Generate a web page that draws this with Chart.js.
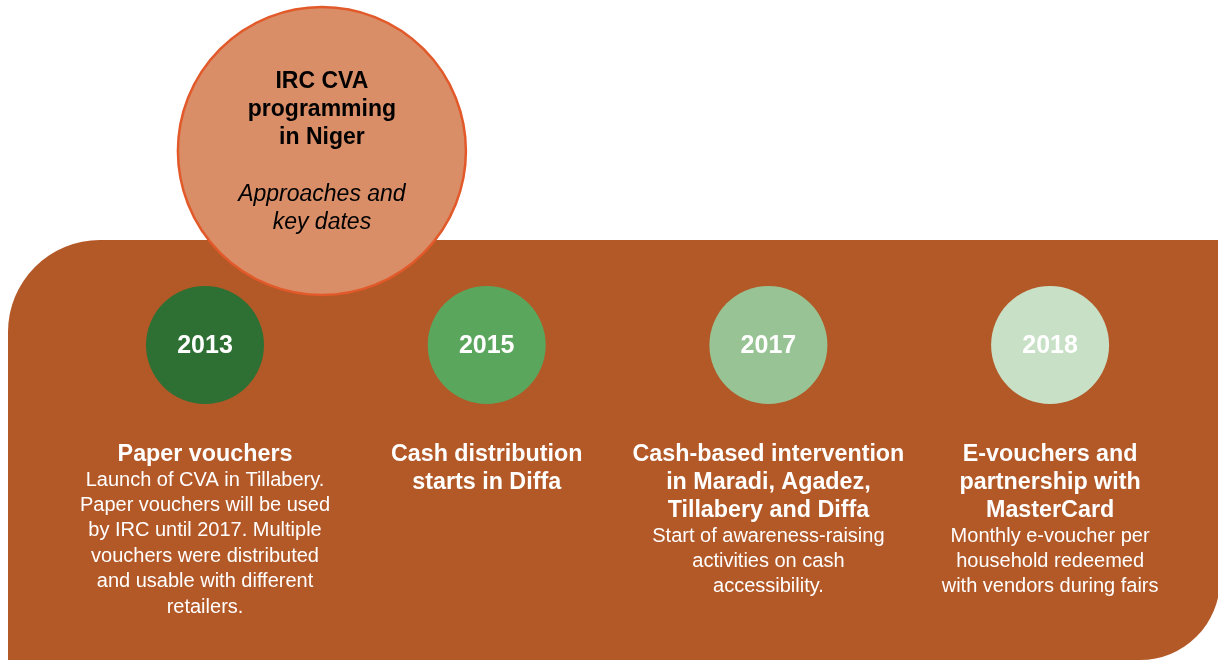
<!DOCTYPE html>
<html>
<head>
<meta charset="utf-8">
<script src="https://cdn.jsdelivr.net/npm/chart.js@4.4.0/dist/chart.umd.min.js"></script>
<style>
  html, body { margin: 0; padding: 0; background: #fff; }
  #wrap { width: 1218px; height: 660px; position: relative; }
</style>
</head>
<body>
<div id="wrap"><canvas id="timeline"></canvas></div>
<script>
// ---- data ----
const years = ['2013', '2015', '2017', '2018'];
const titles = [
  ['Paper vouchers'],
  ['Cash distribution', 'starts in Diffa'],
  ['Cash-based intervention', 'in Maradi, Agadez,', 'Tillabery and Diffa'],
  ['E-vouchers and', 'partnership with', 'MasterCard']
];
const descriptions = [
  ['Launch of CVA in Tillabery.', 'Paper vouchers will be used', 'by IRC until 2017. Multiple', 'vouchers were distributed', 'and usable with different', 'retailers.'],
  [],
  ['Start of awareness-raising', 'activities on cash', 'accessibility.'],
  ['Monthly e-voucher per', 'household redeemed', 'with vendors during fairs']
];
const headerTitle = ['IRC CVA', 'programming', 'in Niger'];
const headerSub = ['Approaches and', 'key dates'];

// ---- styles ----
const BROWN = '#b35827';
const yearColors = ['#2e7033', '#5ba65d', '#98c394', '#c8e0c6'];
const FONT = '"Liberation Sans", Arial, sans-serif';

// timeline row (y in scale units = px, reversed axis)
const ROW_Y = 345;
const HEADER_X = 0.415;   // header circle sits between 2013 and 2015
const HEADER_Y = 151;

// background band + header text + milestone text
const decor = {
  id: 'decor',
  beforeDatasetsDraw(chart) {
    const ctx = chart.ctx;
    const y = chart.scales.y;
    const top = y.getPixelForValue(240), bottom = y.getPixelForValue(660);
    const left = 8, right = 1220, rTL = 92, rBR = 80;
    ctx.save();
    ctx.fillStyle = BROWN;
    ctx.beginPath();
    ctx.moveTo(left + rTL, top);
    ctx.lineTo(right, top);
    ctx.lineTo(right, bottom - rBR);
    ctx.arc(right - rBR, bottom - rBR, rBR, 0, Math.PI / 2);
    ctx.lineTo(left, bottom);
    ctx.lineTo(left, top + rTL);
    ctx.arc(left + rTL, top + rTL, rTL, Math.PI, Math.PI * 1.5);
    ctx.closePath();
    ctx.fill();
    ctx.restore();
  },
  afterDatasetsDraw(chart) {
    const ctx = chart.ctx;
    const xs = chart.scales.x, ys = chart.scales.y;
    ctx.save();
    ctx.textAlign = 'center';
    ctx.textBaseline = 'middle';

    // header circle text
    const hx = xs.getPixelForValue(HEADER_X);
    ctx.fillStyle = '#000';
    ctx.font = 'bold 23px ' + FONT;
    headerTitle.forEach((t, i) => ctx.fillText(t, hx, ys.getPixelForValue(82 + i * 28)));
    ctx.font = 'italic 23px ' + FONT;
    headerSub.forEach((t, i) => ctx.fillText(t, hx, ys.getPixelForValue(195 + i * 28)));

    // milestones
    years.forEach((yr, i) => {
      const cx = xs.getPixelForValue(i);
      ctx.fillStyle = '#fff';
      ctx.font = 'bold 25px ' + FONT;
      ctx.fillText(yr, cx, ys.getPixelForValue(ROW_Y + 1));

      let ly = 455;
      ctx.font = 'bold 23.3px ' + FONT;
      titles[i].forEach((t, k) => {
        ly = 455 + k * 28;
        ctx.fillText(t, cx, ys.getPixelForValue(ly));
      });
      ctx.font = '20px ' + FONT;
      descriptions[i].forEach((t, k) => {
        ctx.fillText(t, cx, ys.getPixelForValue(ly + 25 + k * 25.4));
      });
    });
    ctx.restore();
  }
};

new Chart(document.getElementById('timeline'), {
  type: 'bubble',
  data: {
    datasets: [
      {
        label: 'Years',
        data: years.map((_, i) => ({ x: i, y: ROW_Y, r: 59 })),
        backgroundColor: yearColors,
        borderWidth: 0
      },
      {
        label: 'Header',
        data: [{ x: HEADER_X, y: HEADER_Y, r: 144 }],
        backgroundColor: '#d98e68',
        borderColor: '#e2592a',
        borderWidth: 2.5
      }
    ]
  },
  options: {
    responsive: true,
    maintainAspectRatio: false,
    animation: false,
    events: [],
    layout: { padding: 0, autoPadding: false },
    plugins: { legend: { display: false }, tooltip: { enabled: false } },
    scales: {
      x: { type: 'linear', display: false, min: -205 / 281.7, max: (1218 - 205) / 281.7 },
      y: { type: 'linear', display: false, min: 0, max: 660, reverse: true }
    }
  },
  plugins: [decor]
});
</script>
</body>
</html>
